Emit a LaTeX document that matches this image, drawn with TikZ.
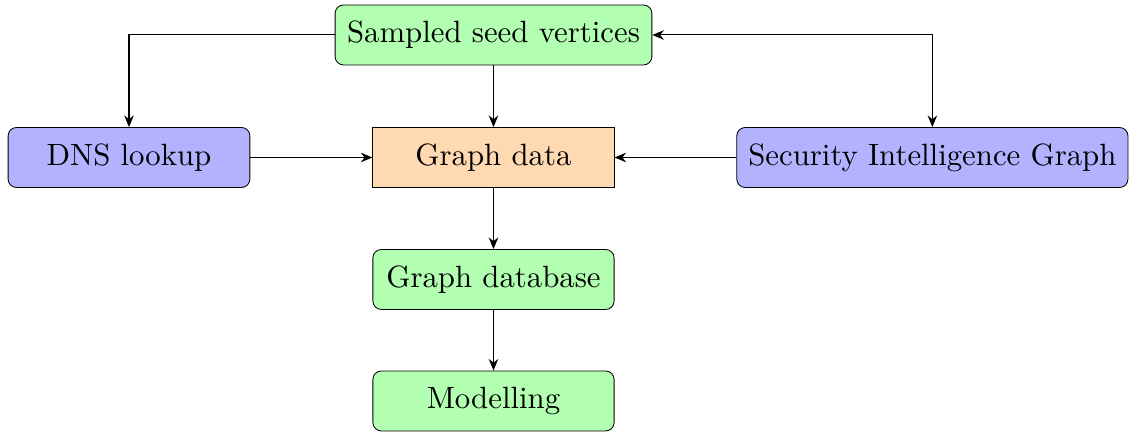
\documentclass[tikz,border=0pt]{standalone}
\usetikzlibrary{arrows.meta}
% labels are set at 10pt and enlarged as a whole
\newcommand\lbl[1]{\scalebox{1.46}{#1}}
\begin{document}
\begin{tikzpicture}[
  box/.style={draw, minimum height=1cm, inner sep=3pt},
  rbox/.style={box, rounded corners=4pt},
  greenbox/.style={rbox, fill=green!30},
  bluebox/.style={rbox, fill=blue!30},
  datab/.style={box, fill=orange!30},
  tip/.tip={Stealth[length=5.5pt,width=4.5pt]},
  link/.style={-tip, line width=0.5pt},
  blink/.style={tip-tip, line width=0.5pt}
]
\useasboundingbox (0,0) rectangle (18.817,-7.2);

% pipeline nodes
\node[greenbox, minimum width=5.28cm] (seed) at (8.225,-0.583) {\lbl{Sampled seed vertices}};
\node[bluebox, minimum width=4.03cm] (dns) at (2.15,-2.625) {\lbl{DNS lookup}};
\node[datab, minimum width=4.02cm] (data) at (8.225,-2.625) {\lbl{Graph data}};
\node[bluebox, minimum width=6.52cm] (sig) at (15.54,-2.625) {\lbl{Security Intelligence Graph}};
\node[greenbox, minimum width=4.02cm] (gdb) at (8.225,-4.658) {\lbl{Graph database}};
\node[greenbox, minimum width=4.02cm] (model) at (8.225,-6.683) {\lbl{Modelling}};

% connectors
\draw[link] (seed.west) -| (dns.north);
\draw[link] (seed) -- (data);
\draw[blink] (seed.east) -| (sig.north);
\draw[link] (dns) -- (data);
\draw[link] (sig) -- (data);
\draw[link] (data) -- (gdb);
\draw[link] (gdb) -- (model);
\end{tikzpicture}
\end{document}
